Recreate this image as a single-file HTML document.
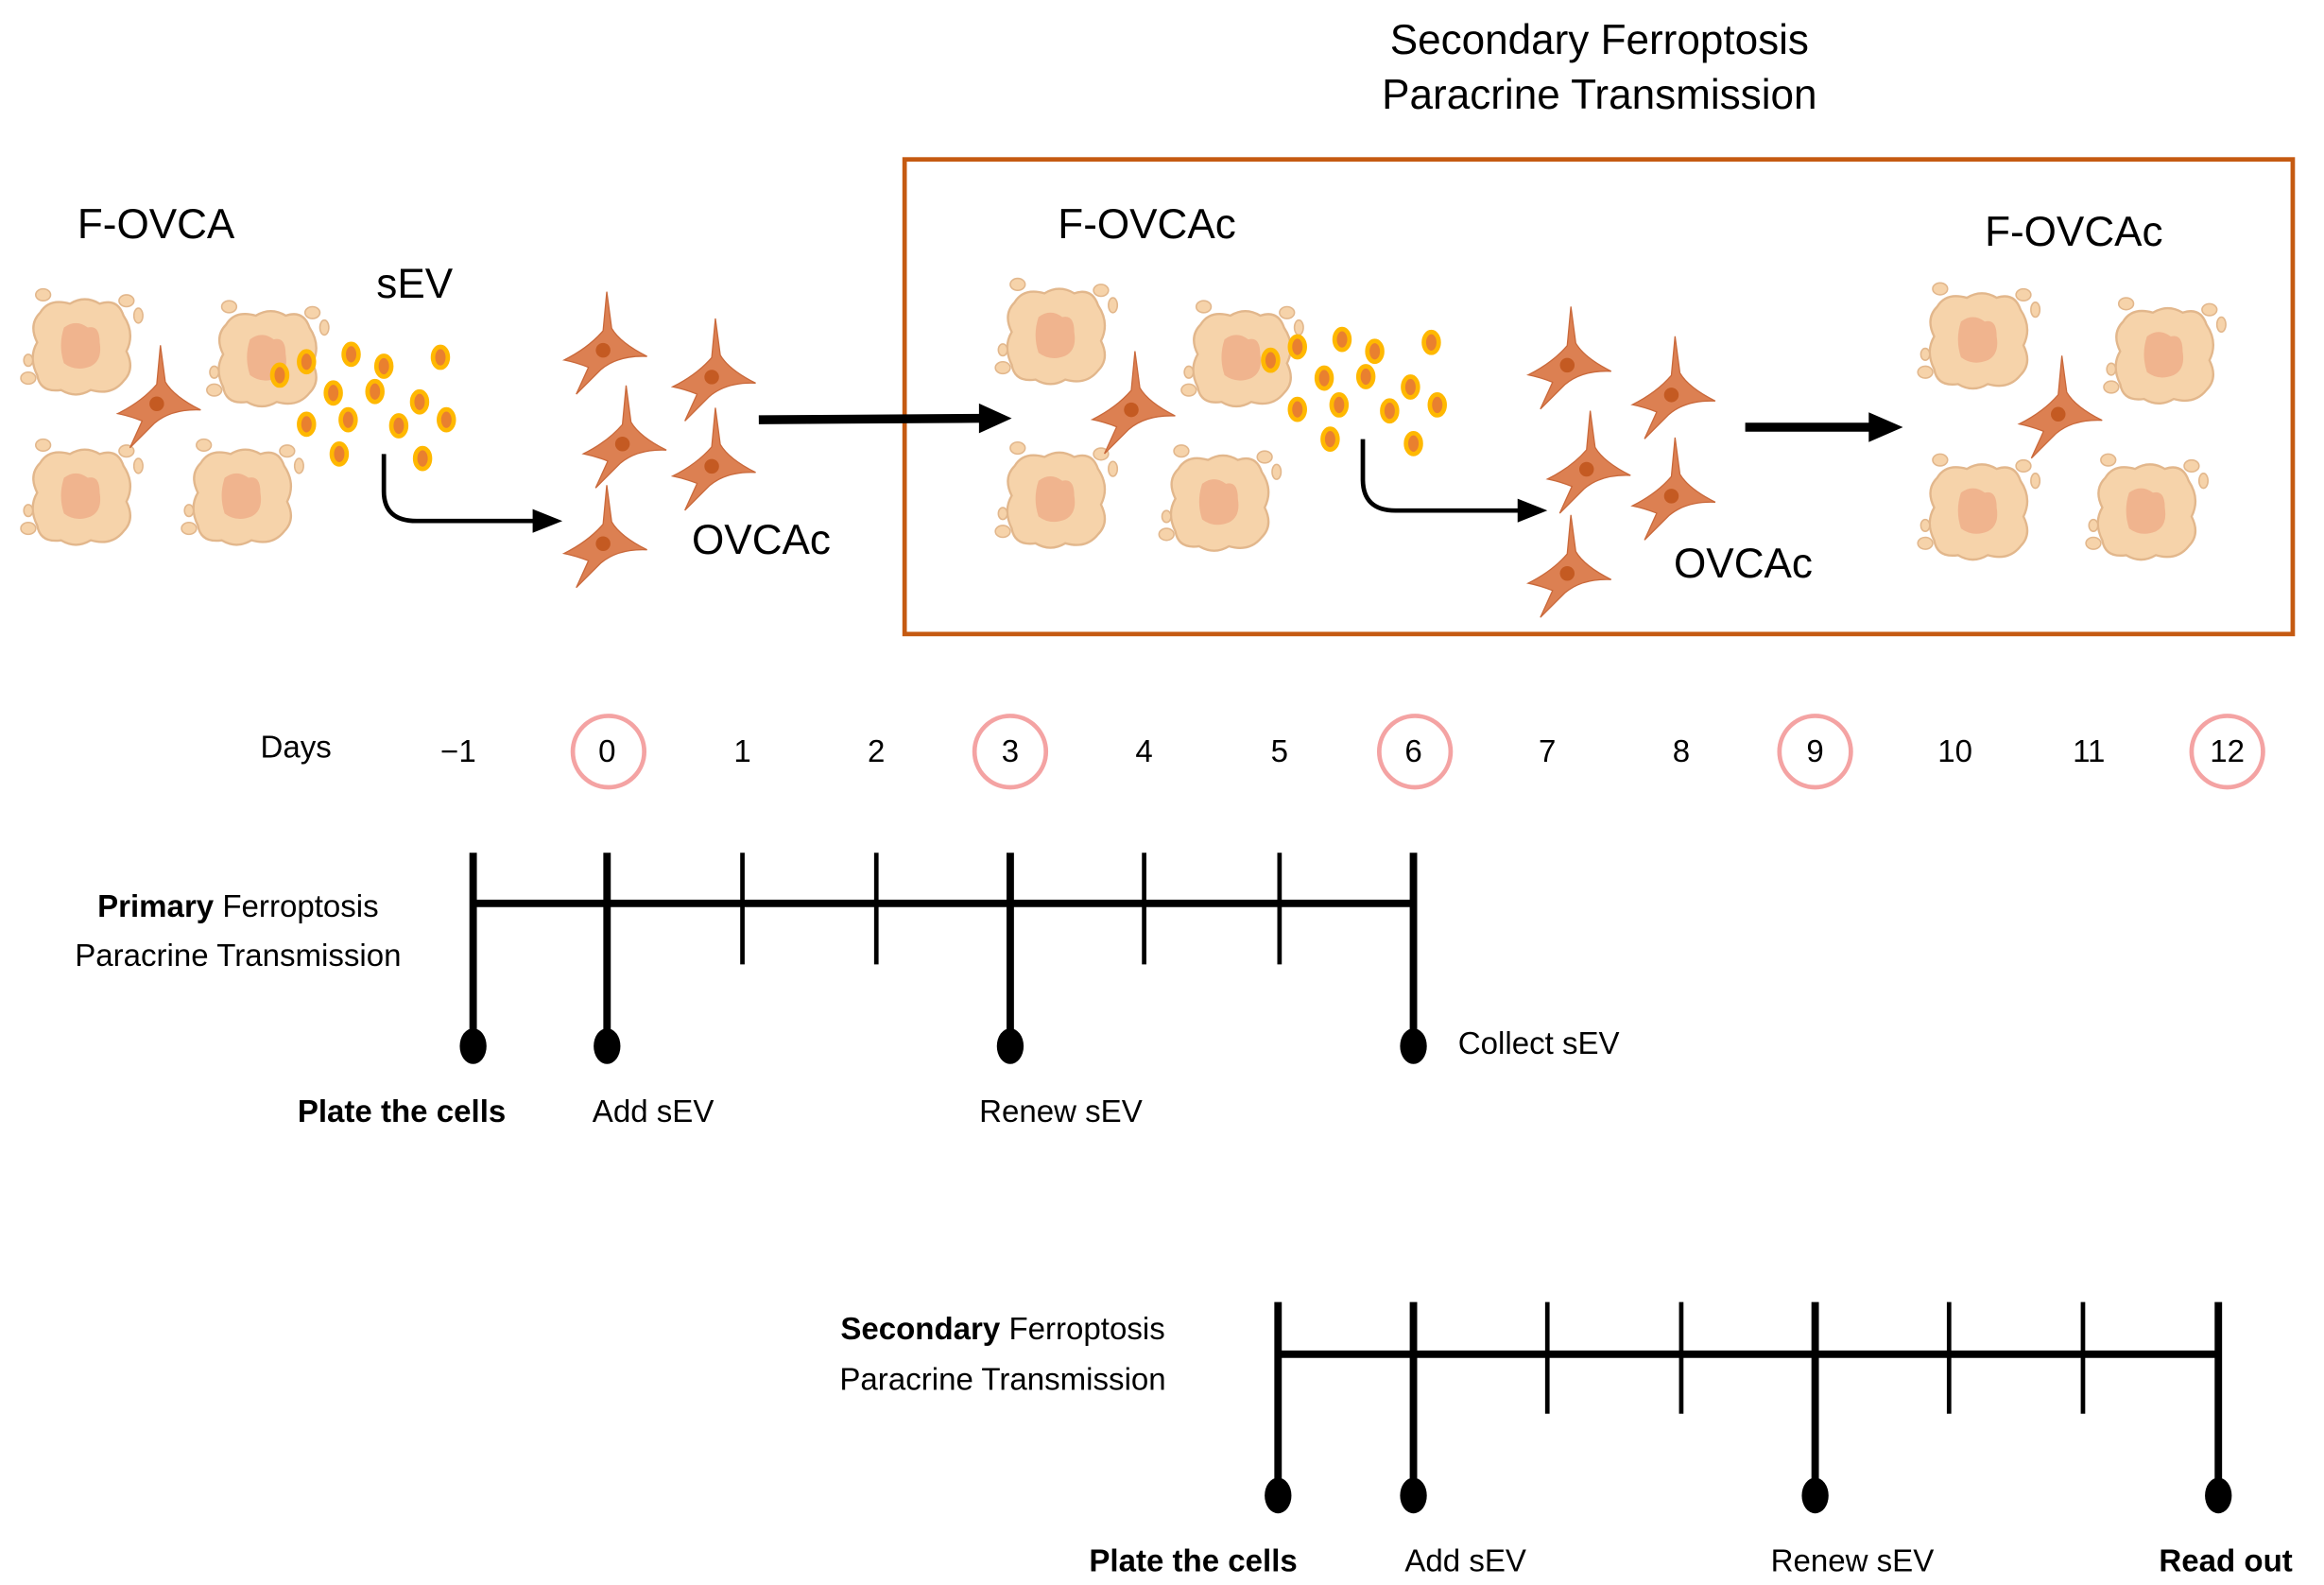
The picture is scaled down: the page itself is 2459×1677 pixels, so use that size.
<!DOCTYPE html>
<html><head><meta charset="utf-8"><style>
html,body{margin:0;padding:0;background:#fff}
svg{display:block}
.t{font-family:"Liberation Sans",sans-serif;fill:#000}
.c{font-family:"Liberation Sans",sans-serif;font-size:21px;fill:#000}
</style></head><body>
<svg width="2459" height="1677" viewBox="0 0 1562 1065" xmlns="http://www.w3.org/2000/svg">
<defs>
<g id="big">
<path d="M-28,-22 Q-22,-32 -8,-28 Q2,-34 12,-28 Q24,-32 28,-20 Q36,-8 30,4 Q36,16 28,24 Q20,34 6,30 Q-4,36 -14,30 Q-28,32 -30,20 Q-36,8 -30,-2 Q-36,-14 -28,-22 Z" fill="#f6d3aa" stroke="#e2b78c" stroke-width="1.5"/>
<path d="M-12,-12 Q-4,-18 4,-12 Q12,-14 12,-2 Q14,10 6,14 Q-4,18 -12,12 Q-16,0 -12,-12 Z" fill="#f0b48e"/>
<ellipse cx="30" cy="-30" rx="5" ry="4" fill="#f6d3aa" stroke="#e2b78c"/>
<ellipse cx="38" cy="-20" rx="3" ry="5" fill="#f6d3aa" stroke="#e2b78c"/>
<ellipse cx="-36" cy="10" rx="3" ry="4" fill="#f6d3aa" stroke="#e2b78c"/>
<ellipse cx="-36" cy="22" rx="5" ry="4" fill="#f6d3aa" stroke="#e2b78c"/>
<ellipse cx="-26" cy="-34" rx="5" ry="4" fill="#f6d3aa" stroke="#e2b78c"/>
</g>
<g id="fib" transform="scale(0.82)">
<path d="M1,-44 L5,-14 Q12,-2 34,9 Q10,8 -4,20 L-24,40 L-14,18 Q-24,14 -34,12 Q-14,2 -2,-12 Z" fill="#dc8052" stroke="#c9683a" stroke-width="1"/>
<circle cx="-2" cy="4" r="6" fill="#c45a22"/>
</g>
<g id="ev"><ellipse cx="0" cy="0" rx="5" ry="7" fill="#e9802f" stroke="#ffb800" stroke-width="3"/></g>
<g id="evs">
<use href="#ev" x="0" y="12"/><use href="#ev" x="18" y="3"/><use href="#ev" x="48" y="-2"/><use href="#ev" x="70" y="6"/><use href="#ev" x="108" y="0"/>
<use href="#ev" x="36" y="24"/><use href="#ev" x="64" y="23"/><use href="#ev" x="94" y="30"/>
<use href="#ev" x="18" y="45"/><use href="#ev" x="46" y="42"/><use href="#ev" x="80" y="46"/><use href="#ev" x="112" y="42"/>
<use href="#ev" x="40" y="65"/><use href="#ev" x="96" y="68"/>
</g>
</defs>

<text class="t" x="1075" y="36" font-size="28" text-anchor="middle">Secondary Ferroptosis</text>
<text class="t" x="1075" y="73" font-size="28" text-anchor="middle">Paracrine Transmission</text>
<rect x="608" y="107" width="933" height="319" fill="none" stroke="#c55a11" stroke-width="3"/>

<text class="t" x="52" y="160" font-size="28">F-OVCA</text>
<text class="t" x="253" y="200" font-size="28">sEV</text>
<text class="t" x="465" y="372" font-size="28">OVCAc</text>
<text class="t" x="711" y="160" font-size="28">F-OVCAc</text>
<text class="t" x="1334" y="165" font-size="28">F-OVCAc</text>
<text class="t" x="1125" y="388" font-size="28">OVCAc</text>

<!-- panel 1 -->
<use href="#big" x="55" y="232"/><use href="#big" x="180" y="240"/><use href="#big" x="55" y="333"/><use href="#big" x="163" y="333"/>
<use href="#fib" x="107" y="268"/>
<use href="#evs" x="188" y="240"/>
<path d="M258,305 L258,330 Q258,350 280,350 L362,350" fill="none" stroke="#000" stroke-width="3"/>
<polygon points="358,342 378,350 358,358" fill="#000"/>
<use href="#fib" x="407" y="232"/><use href="#fib" x="480" y="250"/><use href="#fib" x="420" y="295"/><use href="#fib" x="480" y="310"/><use href="#fib" x="407" y="362"/>
<path d="M510,282 L662,281" stroke="#000" stroke-width="6" fill="none"/>
<polygon points="658,271 680,281 658,291" fill="#000"/>

<!-- panel 2 -->
<use href="#big" x="710" y="225"/><use href="#big" x="835" y="240"/><use href="#big" x="710" y="335"/><use href="#big" x="820" y="337"/>
<use href="#fib" x="762" y="272"/>
<use href="#evs" x="854" y="230"/>
<path d="M916,295 L916,322 Q916,343 938,343 L1025,343" fill="none" stroke="#000" stroke-width="3"/>
<polygon points="1020,335 1040,343 1020,351" fill="#000"/>
<use href="#fib" x="1055" y="242"/><use href="#fib" x="1125" y="262"/><use href="#fib" x="1068" y="312"/><use href="#fib" x="1125" y="330"/><use href="#fib" x="1055" y="382"/>
<path d="M1173,287 L1262,287" stroke="#000" stroke-width="6" fill="none"/>
<polygon points="1256,277 1279,287 1256,297" fill="#000"/>

<!-- panel 3 -->
<use href="#big" x="1330" y="228"/><use href="#big" x="1455" y="238"/><use href="#big" x="1330" y="343"/><use href="#big" x="1443" y="343"/>
<use href="#fib" x="1385" y="275"/>

<!-- days -->
<text class="c" x="175" y="509">Days</text>
<g class="c" text-anchor="middle">
<text x="308" y="512">−1</text><text x="408" y="512">0</text><text x="499" y="512">1</text><text x="589" y="512">2</text>
<text x="679" y="512">3</text><text x="769" y="512">4</text><text x="860" y="512">5</text><text x="950" y="512">6</text>
<text x="1040" y="512">7</text><text x="1130" y="512">8</text><text x="1220" y="512">9</text><text x="1314" y="512">10</text>
<text x="1404" y="512">11</text><text x="1497" y="512">12</text>
</g>
<g fill="none" stroke="#f4a3a3" stroke-width="3">
<circle cx="409" cy="505" r="24"/><circle cx="679" cy="505" r="24"/><circle cx="951" cy="505" r="24"/><circle cx="1220" cy="505" r="24"/><circle cx="1497" cy="505" r="24"/>
</g>

<!-- primary timeline -->
<g stroke="#000">
<line x1="318" y1="607" x2="951" y2="607" stroke-width="5"/>
<line x1="318" y1="573" x2="318" y2="700" stroke-width="5"/>
<line x1="408" y1="573" x2="408" y2="700" stroke-width="5"/>
<line x1="679" y1="573" x2="679" y2="700" stroke-width="5"/>
<line x1="950" y1="573" x2="950" y2="700" stroke-width="5"/>
<line x1="499" y1="573" x2="499" y2="648" stroke-width="3"/>
<line x1="589" y1="573" x2="589" y2="648" stroke-width="3"/>
<line x1="769" y1="573" x2="769" y2="648" stroke-width="3"/>
<line x1="860" y1="573" x2="860" y2="648" stroke-width="3"/>
</g>
<g fill="#000"><ellipse cx="318" cy="703" rx="9" ry="12"/><ellipse cx="408" cy="703" rx="9" ry="12"/><ellipse cx="679" cy="703" rx="9" ry="12"/><ellipse cx="950" cy="703" rx="9" ry="12"/></g>
<text class="c" x="160" y="616" text-anchor="middle"><tspan font-weight="bold">Primary</tspan> Ferroptosis</text>
<text class="c" x="160" y="649" text-anchor="middle">Paracrine Transmission</text>
<text class="c" x="270" y="754" text-anchor="middle" font-weight="bold">Plate the cells</text>
<text class="c" x="439" y="754" text-anchor="middle">Add sEV</text>
<text class="c" x="713" y="754" text-anchor="middle">Renew sEV</text>
<text class="c" x="980" y="708">Collect sEV</text>

<!-- secondary timeline -->
<g stroke="#000">
<line x1="859" y1="910" x2="1492" y2="910" stroke-width="5"/>
<line x1="859" y1="875" x2="859" y2="1003" stroke-width="5"/>
<line x1="950" y1="875" x2="950" y2="1003" stroke-width="5"/>
<line x1="1220" y1="875" x2="1220" y2="1003" stroke-width="5"/>
<line x1="1491" y1="875" x2="1491" y2="1003" stroke-width="5"/>
<line x1="1040" y1="875" x2="1040" y2="950" stroke-width="3"/>
<line x1="1130" y1="875" x2="1130" y2="950" stroke-width="3"/>
<line x1="1310" y1="875" x2="1310" y2="950" stroke-width="3"/>
<line x1="1400" y1="875" x2="1400" y2="950" stroke-width="3"/>
</g>
<g fill="#000"><ellipse cx="859" cy="1005" rx="9" ry="12"/><ellipse cx="950" cy="1005" rx="9" ry="12"/><ellipse cx="1220" cy="1005" rx="9" ry="12"/><ellipse cx="1491" cy="1005" rx="9" ry="12"/></g>
<text class="c" x="674" y="900" text-anchor="middle"><tspan font-weight="bold">Secondary</tspan> Ferroptosis</text>
<text class="c" x="674" y="934" text-anchor="middle">Paracrine Transmission</text>
<text class="c" x="802" y="1056" text-anchor="middle" font-weight="bold">Plate the cells</text>
<text class="c" x="985" y="1056" text-anchor="middle">Add sEV</text>
<text class="c" x="1245" y="1056" text-anchor="middle">Renew sEV</text>
<text class="c" x="1496" y="1056" text-anchor="middle" font-weight="bold">Read out</text>
</svg>
</body></html>
